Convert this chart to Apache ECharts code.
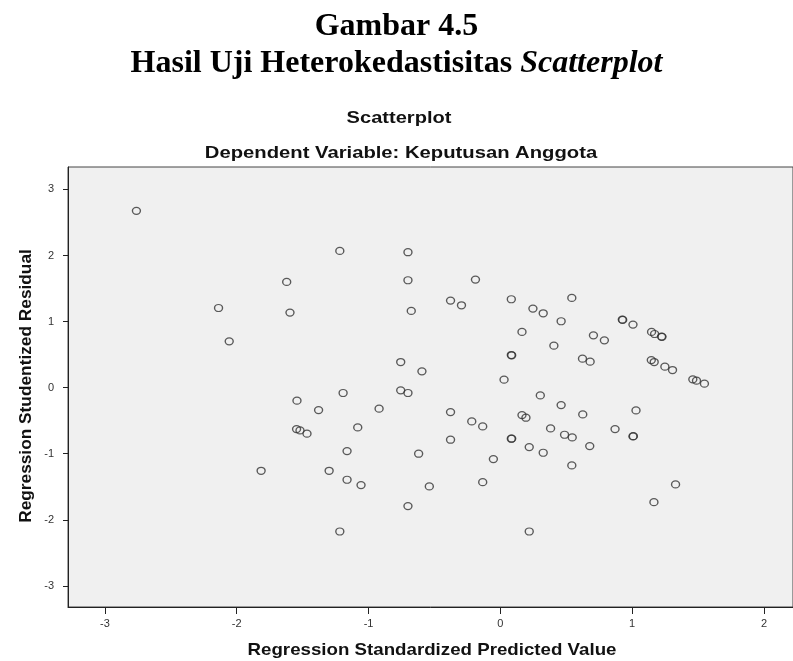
<!DOCTYPE html>
<html>
<head>
<meta charset="utf-8">
<script src="https://cdn.jsdelivr.net/npm/echarts@6/dist/echarts.min.js"></script>
<style>
html,body{margin:0;padding:0;background:#fff;}
#chart{width:793px;height:661px;}
</style>
</head>
<body>
<div id="chart"></div>
<script>
// Regression Standardized Predicted Value
var predicted = [
  -2.761, -1.621, -2.138, -1.596, -2.057, -1.218, -0.701, -0.701, -0.189, -0.378,
  -0.295, -0.676, 0.083, 0.247, 0.164, 0.083, 0.086, -0.756, -0.595, 0.028,
  0.542, 0.325, 0.461, 0.406, 0.925, 0.928, 1.006, 0.706, 0.789, 1.147,
  1.170, 1.223, 1.226, 0.623, 0.681, 1.145, 1.167, 1.248, 1.306, 1.460,
  1.488, 1.548, -1.543, -1.546, -1.520, -1.467, -1.815, -1.379, -1.193, -0.756,
  -0.701, -0.920, -1.082, -1.163, -1.299, -1.163, -1.057, -1.218, -0.701, -0.620,
  -0.539, -0.378, -0.378, -0.217, -0.134, -0.053, -0.134, 0.164, 0.194, 0.083,
  0.086, 0.219, 0.219, 0.303, 0.461, 0.625, 1.029, 0.381, 0.487, 0.545,
  0.870, 1.006, 1.009, 0.325, 0.678, 0.542, 1.329, 1.165
];
// Regression Studentized Residual
var residual = [
  2.676, 1.600, 1.206, 1.136, 0.701, 2.070, 2.050, 1.626, 1.636, 1.318,
  1.247, 1.161, 1.338, 1.197, 0.843, 0.494, 0.490, 0.388, 0.247, 0.121,
  1.358, 1.126, 1.005, 0.636, 1.030, 1.026, 0.955, 0.792, 0.717, 0.843,
  0.812, 0.773, 0.770, 0.439, 0.394, 0.418, 0.388, 0.318, 0.267, 0.126,
  0.106, 0.061, -0.197, -0.627, -0.647, -0.697, -1.258, -0.339, -0.081, -0.041,
  -0.081, -0.318, -0.602, -0.960, -1.258, -1.394, -1.475, -2.177, -1.793, -1.000,
  -1.495, -0.369, -0.788, -0.511, -0.586, -1.081, -1.430, -0.415, -0.455, -0.773,
  -0.770, -0.900, -2.177, -0.117, -0.263, -0.405, -0.344, -0.617, -0.713, -0.753,
  -0.627, -0.738, -0.735, -0.985, -0.884, -1.177, -1.465, -1.733
];
var xTicks = [-3, -2, -1, 0, 1, 2];
var yTicks = [-3, -2, -1, 0, 1, 2, 3];

var heading1 = 'Gambar 4.5';
var heading2 = 'Hasil Uji Heterokedastisitas ';
var heading2Italic = 'Scatterplot';
var chartTitle = 'Scatterplot';
var chartSubtitle = 'Dependent Variable: Keputusan Anggota';
var xTitle = 'Regression Standardized Predicted Value';
var yTitle = 'Regression Studentized Residual';

var points = predicted.map(function (x, i) { return [x, residual[i]]; });

var sans = 'Liberation Sans, Arial, sans-serif';
var serif = 'Liberation Serif, Times New Roman, serif';

function label(text, x, y, size, sx, rot) {
  return {
    type: 'text', x: x, y: y, scaleX: sx || 1, scaleY: 1, rotation: rot || 0,
    silent: true,
    style: {text: text, fontFamily: sans, fontWeight: 'bold', fontSize: size,
            fill: '#111', align: 'center', verticalAlign: 'middle'}
  };
}

var chart = echarts.init(document.getElementById('chart'), null, {renderer: 'canvas'});
chart.setOption({
  animation: false,
  backgroundColor: '#ffffff',
  title: [
    {text: heading1, left: 'center', top: 6,
     textStyle: {fontFamily: serif, fontWeight: 'bold', fontSize: 32, color: '#000'}},
    {text: heading2 + '{i|' + heading2Italic + '}', left: 'center', top: 43,
     textStyle: {fontFamily: serif, fontWeight: 'bold', fontSize: 32, color: '#000',
       rich: {i: {fontFamily: serif, fontWeight: 'bold', fontStyle: 'italic', fontSize: 32, color: '#000'}}}}
  ],
  graphic: [
    label(chartTitle, 399, 118, 17, 1.18),
    label(chartSubtitle, 401, 153, 17, 1.19),
    label(xTitle, 432, 650, 17, 1.1),
    label(yTitle, 26, 386, 17.3, 1.0, Math.PI / 2)
  ],
  grid: {
    left: 68, top: 167, width: 727, height: 440,
    show: true, backgroundColor: '#f0f0f0', borderColor: '#444', borderWidth: 1,
    containLabel: false
  },
  xAxis: {
    type: 'value', min: -3.28, max: 2.22,
    axisLine: {show: true, onZero: false, lineStyle: {color: '#222', width: 1}},
    splitLine: {show: false},
    axisTick: {show: true, length: 7, customValues: xTicks, lineStyle: {color: '#222'}},
    axisLabel: {customValues: xTicks, margin: 11, fontFamily: sans, fontSize: 11, color: '#333'}
  },
  yAxis: {
    type: 'value', min: -3.32, max: 3.34,
    axisLine: {show: true, onZero: false, lineStyle: {color: '#222', width: 1}},
    splitLine: {show: false},
    axisTick: {show: true, length: 5, customValues: yTicks, lineStyle: {color: '#222'}},
    axisLabel: {customValues: yTicks, margin: 14, fontFamily: sans, fontSize: 11, color: '#333'}
  },
  series: [{
    type: 'scatter',
    data: points,
    symbol: 'circle',
    symbolSize: [8, 7],
    itemStyle: {color: 'rgba(0,0,0,0)', borderColor: '#333', borderWidth: 1.3},
    emphasis: {disabled: true}
  }]
});
</script>
</body>
</html>
